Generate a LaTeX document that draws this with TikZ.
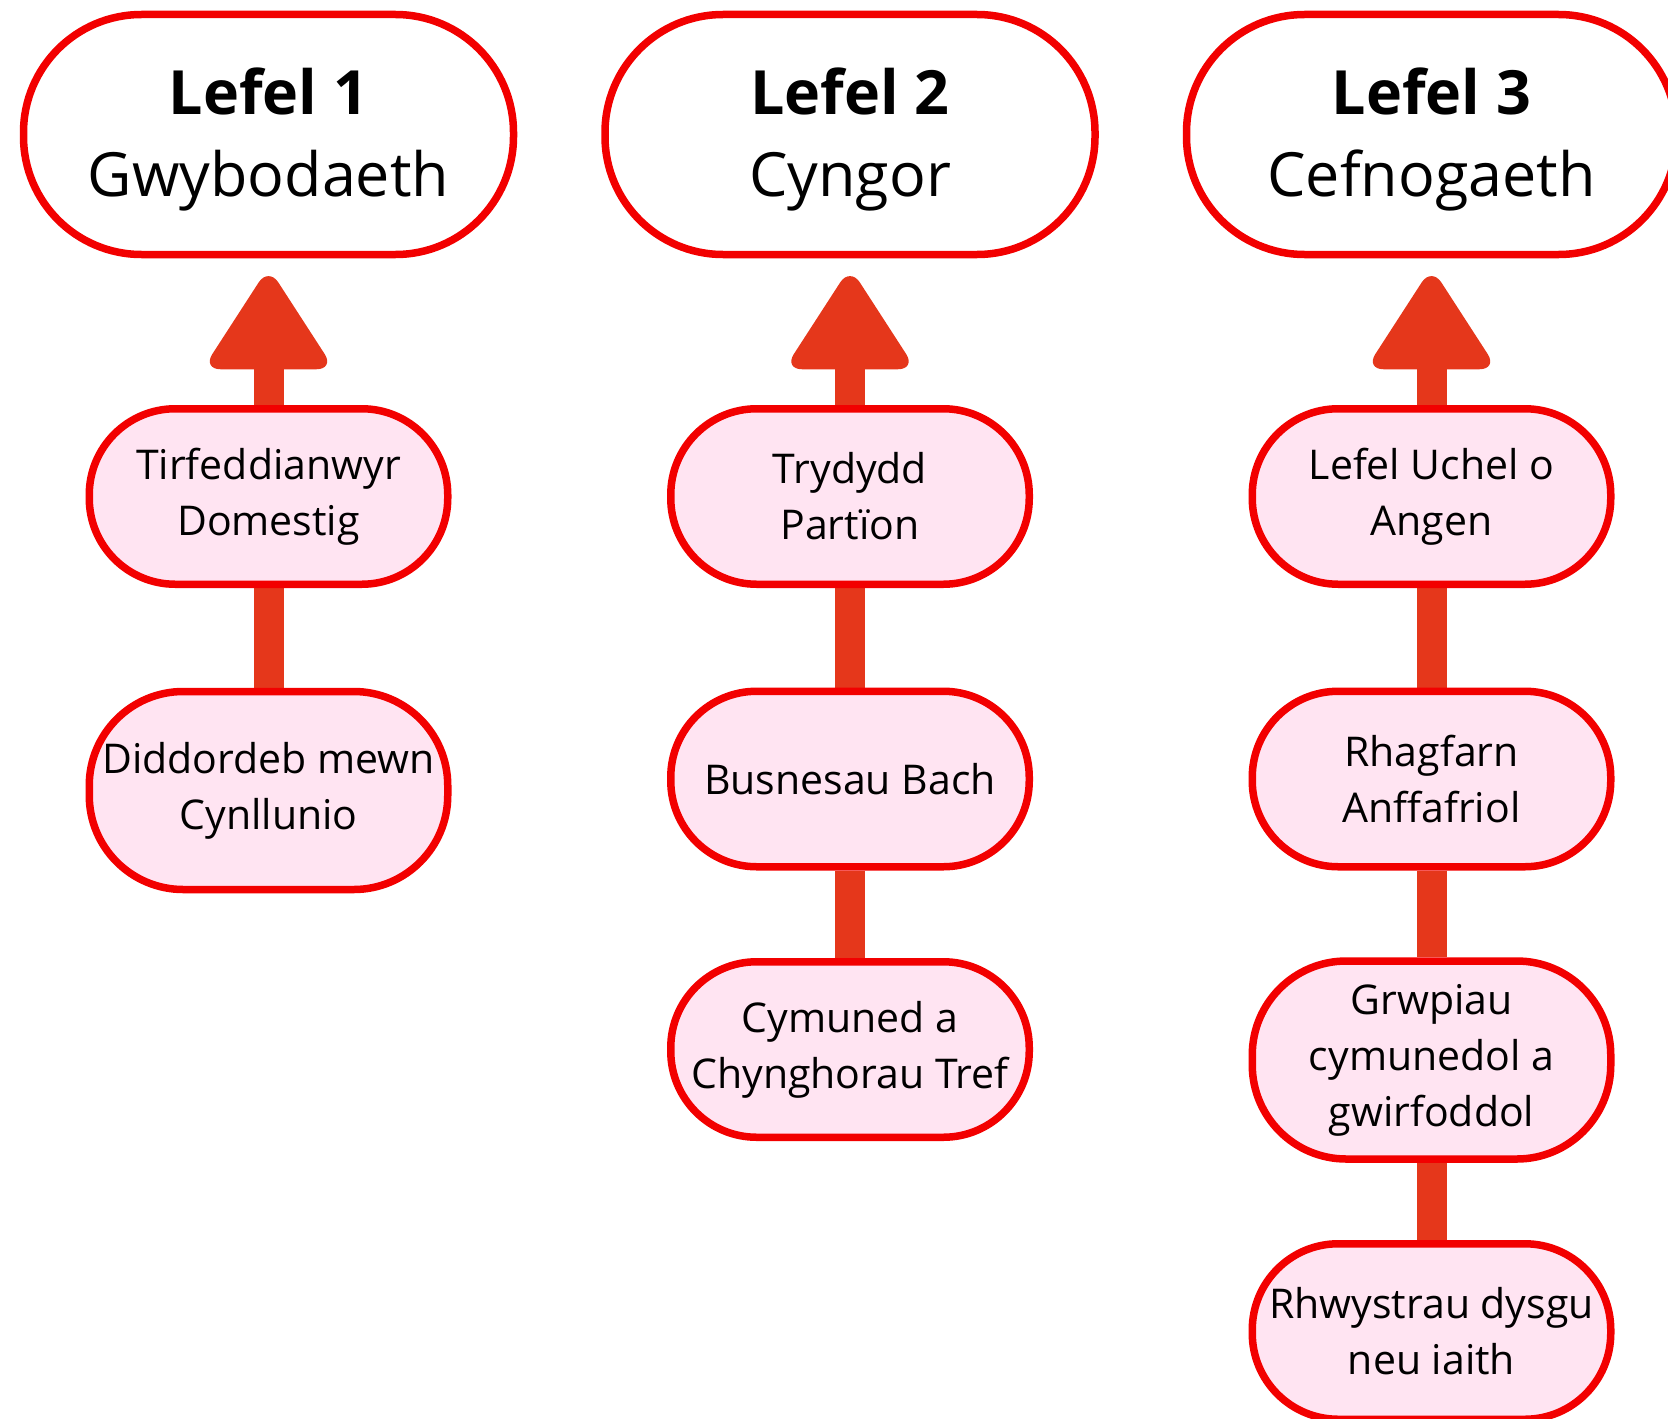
\documentclass[tikz,border=0pt]{standalone}
\usepackage{fontspec}
\setmainfont{Open Sans}
\usetikzlibrary{backgrounds,calc}
\definecolor{bordred}{RGB}{242,0,0}
\definecolor{arrred}{RGB}{229,55,27}
\definecolor{pinkfill}{RGB}{255,228,242}
\newcommand{\toplabel}[2]{\raisebox{-2.5pt}[\height][\depth]{\begin{tabular}{@{}c@{}}\textbf{#1}\\#2\end{tabular}}}
\begin{document}
\begin{tikzpicture}[x=0.5pt,y=-0.5pt,
  topbox/.style={draw=bordred, line width=3.75pt, fill=white, rounded corners=59pt,
    minimum width=245pt, minimum height=120pt, align=center, inner sep=0pt,
    font=\fontsize{30.5}{41}\selectfont},
  subbox/.style={draw=bordred, line width=3.75pt, fill=pinkfill, rounded corners=43pt,
    minimum width=179.25pt, minimum height=87.75pt, align=center, inner sep=0pt,
    font=\fontsize{20.5}{28}\selectfont},
  tallbox/.style={subbox, rounded corners=47pt, minimum height=99pt},
  link/.style={draw=arrred, line width=15pt},
  head/.style={fill=arrred, rounded corners=9pt}]
\useasboundingbox (0,0) rectangle (1668,1418);

% top level boxes
\node[topbox] (T1) at (268.5,134.5) {\toplabel{Lefel 1}{Gwybodaeth}};
\node[topbox] (T2) at (850,134.5) {\toplabel{Lefel 2}{Cyngor}};
\node[topbox] (T3) at (1431.5,134.5) {\toplabel{Lefel 3}{Cefnogaeth}};

% column 1
\node[subbox] (A1) at (268.5,496.5) {Tirfeddianwyr\\Domestig};
\node[tallbox] (A2) at (268.5,790.5) {Diddordeb mewn\\Cynllunio};

% column 2
\node[subbox] (B1) at (850,496.5) {Trydydd\\Partïon};
\node[subbox] (B2) at (850,779) {Busnesau Bach};
\node[subbox] (B3) at (850,1049.5) {Cymuned a\\Chynghorau Tref};

% column 3
\node[subbox] (C1) at (1431.5,496.5) {Lefel Uchel o\\Angen};
\node[subbox] (C2) at (1431.5,779) {Rhagfarn\\Anffafriol};
\node[tallbox] (C3) at (1431.5,1060) {Grwpiau\\cymunedol a\\gwirfoddol};
\node[subbox] (C4) at (1431.5,1331.5) {Rhwystrau dysgu\\neu iaith};

% connectors
\begin{scope}[on background layer]
  \draw[link] (A1.north) -- ($(T1.south)+(0,110)$);
  \draw[link] (B1.north) -- ($(T2.south)+(0,110)$);
  \draw[link] (C1.north) -- ($(T3.south)+(0,110)$);
  \draw[link] (A1.south) -- (A2.north);
  \draw[link] (B1.south) -- (B2.north);
  \draw[link] (B2.south) -- (B3.north);
  \draw[link] (C1.south) -- (C2.north);
  \draw[link] (C2.south) -- (C3.north);
  \draw[link] (C3.south) -- (C4.north);
\end{scope}

% arrow heads
\foreach \t in {T1,T2,T3}{
  \path[head] ($(\t.south)+(0,111)$) -- ($(\t.south)+(66,111)$)
    -- ($(\t.south)+(0,9)$) -- ($(\t.south)+(-66,111)$) -- cycle;
}
\end{tikzpicture}
\end{document}
